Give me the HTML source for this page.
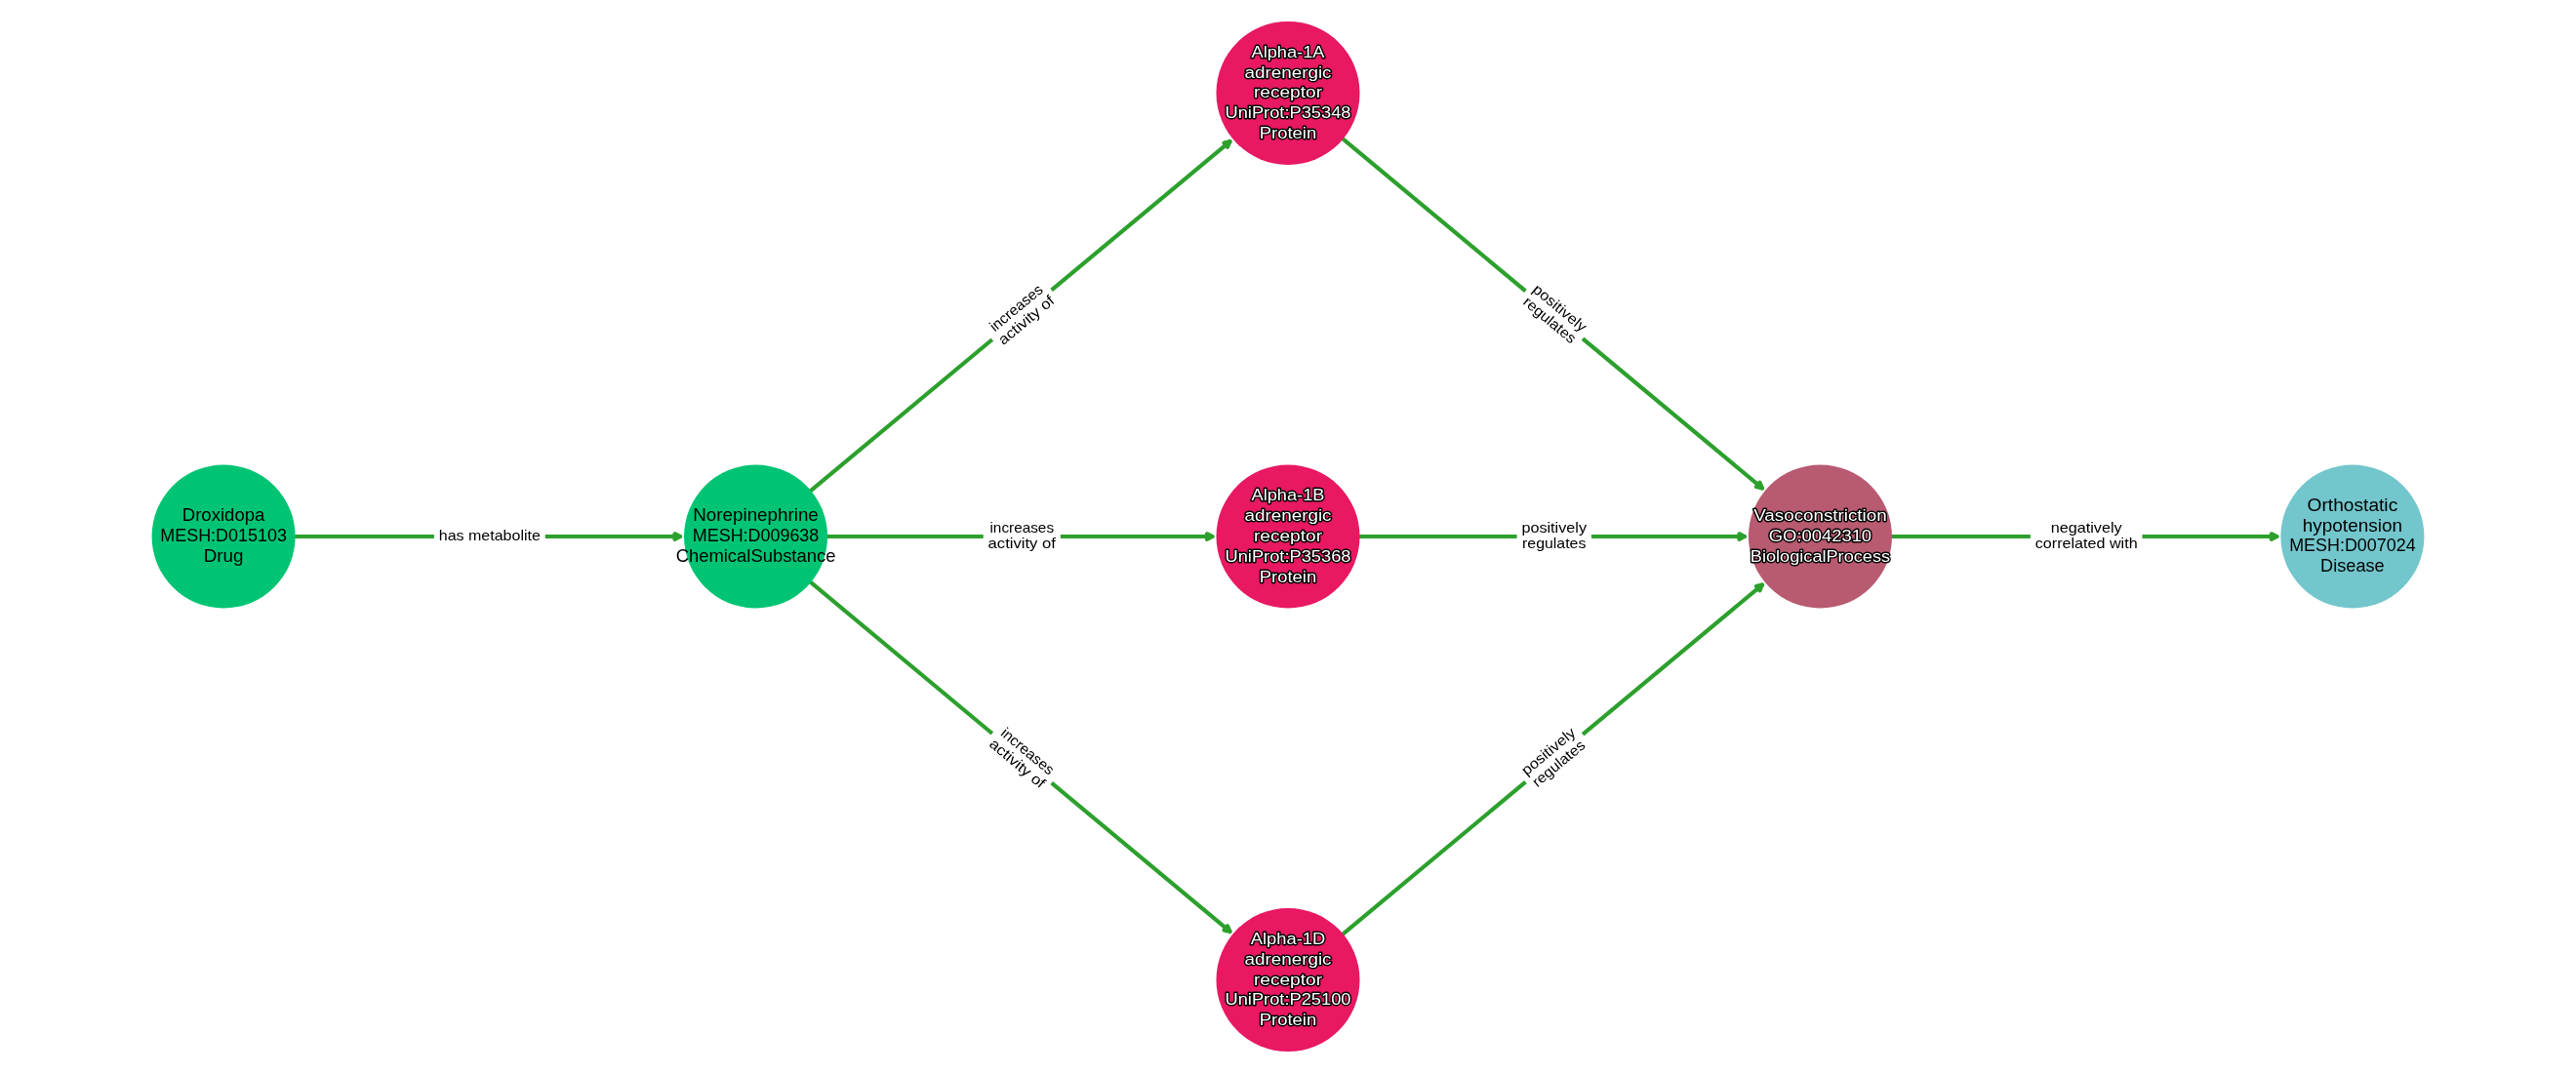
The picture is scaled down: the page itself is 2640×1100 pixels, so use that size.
<!DOCTYPE html>
<html><head><meta charset="utf-8"><style>html,body{margin:0;padding:0;background:#fff;}svg{display:block;will-change:transform;}text{font-family:"Liberation Sans",sans-serif;}</style></head><body>
<svg width="2640" height="1100" viewBox="0 0 2640 1100">
<rect width="2640" height="1100" fill="#fff"/>
<g fill="none" stroke="#2ca02c" stroke-width="4.17" stroke-linejoin="round" stroke-linecap="round">
<path d="M301.92 550Q501.82 550 697.05 550"/>
<path d="M691.5 547.22L697.05 550L691.5 552.78Z" fill="#2ca02c"/>
<path d="M830.5 503.37Q1047.27 322.73 1260.47 145.07"/>
<path d="M1254.42 146.49L1260.47 145.07L1257.98 150.76Z" fill="#2ca02c"/>
<path d="M847.38 550Q1047.27 550 1242.51 550"/>
<path d="M1236.95 547.22L1242.51 550L1236.95 552.78Z" fill="#2ca02c"/>
<path d="M830.5 596.63Q1047.27 777.27 1260.47 954.93"/>
<path d="M1257.98 949.24L1260.47 954.93L1254.42 953.51Z" fill="#2ca02c"/>
<path d="M1375.95 142.08Q1592.73 322.73 1805.92 500.39"/>
<path d="M1803.43 494.7L1805.92 500.39L1799.87 498.97Z" fill="#2ca02c"/>
<path d="M1392.83 550Q1592.73 550 1787.96 550"/>
<path d="M1782.41 547.22L1787.96 550L1782.41 552.78Z" fill="#2ca02c"/>
<path d="M1375.95 957.92Q1592.73 777.27 1805.92 599.61"/>
<path d="M1799.87 601.03L1805.92 599.61L1803.43 605.3Z" fill="#2ca02c"/>
<path d="M1938.28 550Q2138.18 550 2333.42 550"/>
<path d="M2327.86 547.22L2333.42 550L2327.86 552.78Z" fill="#2ca02c"/>
</g>
<path d="M449.75 561.17L553.88 561.17Q558.05 561.17 558.05 557L558.05 543Q558.05 538.83 553.88 538.83L449.75 538.83Q445.59 538.83 445.59 543L445.59 557Q445.59 561.17 449.75 561.17Z" fill="#fff" stroke="#fff" stroke-width="1.39"/>
<text x="449.75" y="554" font-size="15" textLength="104.12" lengthAdjust="spacingAndGlyphs" fill="#000">has metabolite</text>
<path d="M1032.96 359.74L1086.25 315.32Q1089.46 312.65 1086.79 309.45L1067.45 286.25Q1064.79 283.05 1061.59 285.72L1008.29 330.13Q1005.09 332.8 1007.76 336L1027.09 359.2Q1029.76 362.4 1032.96 359.74Z" fill="#fff" stroke="#fff" stroke-width="1.39"/>
<text x="1019.44" y="340.58" font-size="15" textLength="65.62" lengthAdjust="spacingAndGlyphs" fill="#000" transform="rotate(-39.81 1019.44 340.58)">increases</text>
<text x="1028.37" y="354.23" font-size="15" textLength="69.38" lengthAdjust="spacingAndGlyphs" fill="#000" transform="rotate(-39.81 1028.37 354.23)">activity of</text>
<path d="M1012.58 569.27L1081.96 569.27Q1086.13 569.27 1086.13 565.1L1086.13 534.9Q1086.13 530.73 1081.96 530.73L1012.58 530.73Q1008.42 530.73 1008.42 534.9L1008.42 565.1Q1008.42 569.27 1012.58 569.27Z" fill="#fff" stroke="#fff" stroke-width="1.39"/>
<text x="1014.46" y="545.9" font-size="15" textLength="65.62" lengthAdjust="spacingAndGlyphs" fill="#000">increases</text>
<text x="1012.58" y="562.1" font-size="15" textLength="69.38" lengthAdjust="spacingAndGlyphs" fill="#000">activity of</text>
<path d="M1008.29 769.87L1061.59 814.28Q1064.79 816.95 1067.45 813.75L1086.79 790.55Q1089.46 787.35 1086.25 784.68L1032.96 740.26Q1029.76 737.6 1027.09 740.8L1007.76 764Q1005.09 767.2 1008.29 769.87Z" fill="#fff" stroke="#fff" stroke-width="1.39"/>
<text x="1024.69" y="753.12" font-size="15" textLength="65.62" lengthAdjust="spacingAndGlyphs" fill="#000" transform="rotate(-320.19 1024.69 753.12)">increases</text>
<text x="1012.88" y="764.36" font-size="15" textLength="69.38" lengthAdjust="spacingAndGlyphs" fill="#000" transform="rotate(-320.19 1012.88 764.36)">activity of</text>
<path d="M1554.8 316.2L1605.98 358.85Q1609.18 361.52 1611.85 358.32L1631.19 335.12Q1633.85 331.92 1630.65 329.25L1579.47 286.6Q1576.27 283.93 1573.6 287.13L1554.27 310.33Q1551.6 313.53 1554.8 316.2Z" fill="#fff" stroke="#fff" stroke-width="1.39"/>
<text x="1569.76" y="298.25" font-size="15" textLength="66.62" lengthAdjust="spacingAndGlyphs" fill="#000" transform="rotate(-320.19 1569.76 298.25)">positively</text>
<text x="1559.92" y="311.14" font-size="15" textLength="65.25" lengthAdjust="spacingAndGlyphs" fill="#000" transform="rotate(-320.19 1559.92 311.14)">regulates</text>
<path d="M1559.41 569.27L1626.04 569.27Q1630.21 569.27 1630.21 565.1L1630.21 534.9Q1630.21 530.73 1626.04 530.73L1559.41 530.73Q1555.25 530.73 1555.25 534.9L1555.25 565.1Q1555.25 569.27 1559.41 569.27Z" fill="#fff" stroke="#fff" stroke-width="1.39"/>
<text x="1559.41" y="545.9" font-size="15" textLength="66.62" lengthAdjust="spacingAndGlyphs" fill="#000">positively</text>
<text x="1560.1" y="562.1" font-size="15" textLength="65.25" lengthAdjust="spacingAndGlyphs" fill="#000">regulates</text>
<path d="M1579.47 813.4L1630.65 770.75Q1633.85 768.08 1631.19 764.88L1611.85 741.68Q1609.18 738.48 1605.98 741.15L1554.8 783.8Q1551.6 786.47 1554.27 789.67L1573.6 812.87Q1576.27 816.07 1579.47 813.4Z" fill="#fff" stroke="#fff" stroke-width="1.39"/>
<text x="1564.51" y="795.45" font-size="15" textLength="66.62" lengthAdjust="spacingAndGlyphs" fill="#000" transform="rotate(-39.81 1564.51 795.45)">positively</text>
<text x="1575.41" y="807.45" font-size="15" textLength="65.25" lengthAdjust="spacingAndGlyphs" fill="#000" transform="rotate(-39.81 1575.41 807.45)">regulates</text>
<path d="M2085.74 569.27L2190.62 569.27Q2194.79 569.27 2194.79 565.1L2194.79 534.9Q2194.79 530.73 2190.62 530.73L2085.74 530.73Q2081.58 530.73 2081.58 534.9L2081.58 565.1Q2081.58 569.27 2085.74 569.27Z" fill="#fff" stroke="#fff" stroke-width="1.39"/>
<text x="2101.68" y="545.9" font-size="15" textLength="73" lengthAdjust="spacingAndGlyphs" fill="#000">negatively</text>
<text x="2085.74" y="562.1" font-size="15" textLength="104.88" lengthAdjust="spacingAndGlyphs" fill="#000">correlated with</text>
<circle cx="229.09" cy="550" r="73.53" fill="#00c473"/>
<circle cx="774.55" cy="550" r="73.53" fill="#00c473"/>
<circle cx="1320" cy="95.45" r="73.53" fill="#e81862"/>
<circle cx="1320" cy="550" r="73.53" fill="#e81862"/>
<circle cx="1320" cy="1004.55" r="73.53" fill="#e81862"/>
<circle cx="1865.45" cy="550" r="73.53" fill="#b85a70"/>
<circle cx="2410.91" cy="550" r="73.53" fill="#72c6cc"/>
<text x="186.72" y="534.2" font-size="17.67" textLength="84.75" lengthAdjust="spacingAndGlyphs" fill="#000">Droxidopa</text>
<text x="164.22" y="555" font-size="17.67" textLength="129.75" lengthAdjust="spacingAndGlyphs" fill="#000">MESH:D015103</text>
<text x="208.72" y="575.8" font-size="17.67" textLength="40.75" lengthAdjust="spacingAndGlyphs" fill="#000">Drug</text>
<text x="710.3" y="534.2" font-size="17.67" textLength="128.5" lengthAdjust="spacingAndGlyphs" fill="#000">Norepinephrine</text>
<text x="709.8" y="555" font-size="17.67" textLength="129.5" lengthAdjust="spacingAndGlyphs" fill="#000">MESH:D009638</text>
<text x="692.67" y="575.8" font-size="17.67" textLength="163.75" lengthAdjust="spacingAndGlyphs" fill="#000">ChemicalSubstance</text>
<text x="1282.5" y="58.85" font-size="17.33" textLength="75" lengthAdjust="spacingAndGlyphs" fill="#fff" stroke="#000" stroke-width="2.78" stroke-linejoin="round" paint-order="stroke">Alpha-1A</text>
<text x="1275.5" y="79.65" font-size="17.33" textLength="89" lengthAdjust="spacingAndGlyphs" fill="#fff" stroke="#000" stroke-width="2.78" stroke-linejoin="round" paint-order="stroke">adrenergic</text>
<text x="1284.94" y="100.45" font-size="17.33" textLength="70.12" lengthAdjust="spacingAndGlyphs" fill="#fff" stroke="#000" stroke-width="2.78" stroke-linejoin="round" paint-order="stroke">receptor</text>
<text x="1255.5" y="121.25" font-size="17.33" textLength="129" lengthAdjust="spacingAndGlyphs" fill="#fff" stroke="#000" stroke-width="2.78" stroke-linejoin="round" paint-order="stroke">UniProt:P35348</text>
<text x="1290.81" y="142.05" font-size="17.33" textLength="58.38" lengthAdjust="spacingAndGlyphs" fill="#fff" stroke="#000" stroke-width="2.78" stroke-linejoin="round" paint-order="stroke">Protein</text>
<text x="1282.5" y="513.4" font-size="17.33" textLength="75" lengthAdjust="spacingAndGlyphs" fill="#fff" stroke="#000" stroke-width="2.78" stroke-linejoin="round" paint-order="stroke">Alpha-1B</text>
<text x="1275.5" y="534.2" font-size="17.33" textLength="89" lengthAdjust="spacingAndGlyphs" fill="#fff" stroke="#000" stroke-width="2.78" stroke-linejoin="round" paint-order="stroke">adrenergic</text>
<text x="1284.94" y="555" font-size="17.33" textLength="70.12" lengthAdjust="spacingAndGlyphs" fill="#fff" stroke="#000" stroke-width="2.78" stroke-linejoin="round" paint-order="stroke">receptor</text>
<text x="1255.5" y="575.8" font-size="17.33" textLength="129" lengthAdjust="spacingAndGlyphs" fill="#fff" stroke="#000" stroke-width="2.78" stroke-linejoin="round" paint-order="stroke">UniProt:P35368</text>
<text x="1290.81" y="596.6" font-size="17.33" textLength="58.38" lengthAdjust="spacingAndGlyphs" fill="#fff" stroke="#000" stroke-width="2.78" stroke-linejoin="round" paint-order="stroke">Protein</text>
<text x="1281.75" y="967.95" font-size="17.33" textLength="76.5" lengthAdjust="spacingAndGlyphs" fill="#fff" stroke="#000" stroke-width="2.78" stroke-linejoin="round" paint-order="stroke">Alpha-1D</text>
<text x="1275.5" y="988.75" font-size="17.33" textLength="89" lengthAdjust="spacingAndGlyphs" fill="#fff" stroke="#000" stroke-width="2.78" stroke-linejoin="round" paint-order="stroke">adrenergic</text>
<text x="1284.94" y="1009.55" font-size="17.33" textLength="70.12" lengthAdjust="spacingAndGlyphs" fill="#fff" stroke="#000" stroke-width="2.78" stroke-linejoin="round" paint-order="stroke">receptor</text>
<text x="1255.5" y="1030.35" font-size="17.33" textLength="129" lengthAdjust="spacingAndGlyphs" fill="#fff" stroke="#000" stroke-width="2.78" stroke-linejoin="round" paint-order="stroke">UniProt:P25100</text>
<text x="1290.81" y="1051.15" font-size="17.33" textLength="58.38" lengthAdjust="spacingAndGlyphs" fill="#fff" stroke="#000" stroke-width="2.78" stroke-linejoin="round" paint-order="stroke">Protein</text>
<text x="1797.2" y="534.2" font-size="17.33" textLength="136.5" lengthAdjust="spacingAndGlyphs" fill="#fff" stroke="#000" stroke-width="2.78" stroke-linejoin="round" paint-order="stroke">Vasoconstriction</text>
<text x="1812.83" y="555" font-size="17.33" textLength="105.25" lengthAdjust="spacingAndGlyphs" fill="#fff" stroke="#000" stroke-width="2.78" stroke-linejoin="round" paint-order="stroke">GO:0042310</text>
<text x="1793.83" y="575.8" font-size="17.33" textLength="143.25" lengthAdjust="spacingAndGlyphs" fill="#fff" stroke="#000" stroke-width="2.78" stroke-linejoin="round" paint-order="stroke">BiologicalProcess</text>
<text x="2364.6" y="523.8" font-size="17.67" textLength="92.62" lengthAdjust="spacingAndGlyphs" fill="#000">Orthostatic</text>
<text x="2359.78" y="544.6" font-size="17.67" textLength="102.25" lengthAdjust="spacingAndGlyphs" fill="#000">hypotension</text>
<text x="2346.16" y="565.4" font-size="17.67" textLength="129.5" lengthAdjust="spacingAndGlyphs" fill="#000">MESH:D007024</text>
<text x="2378.1" y="586.2" font-size="17.67" textLength="65.62" lengthAdjust="spacingAndGlyphs" fill="#000">Disease</text>
</svg></body></html>
